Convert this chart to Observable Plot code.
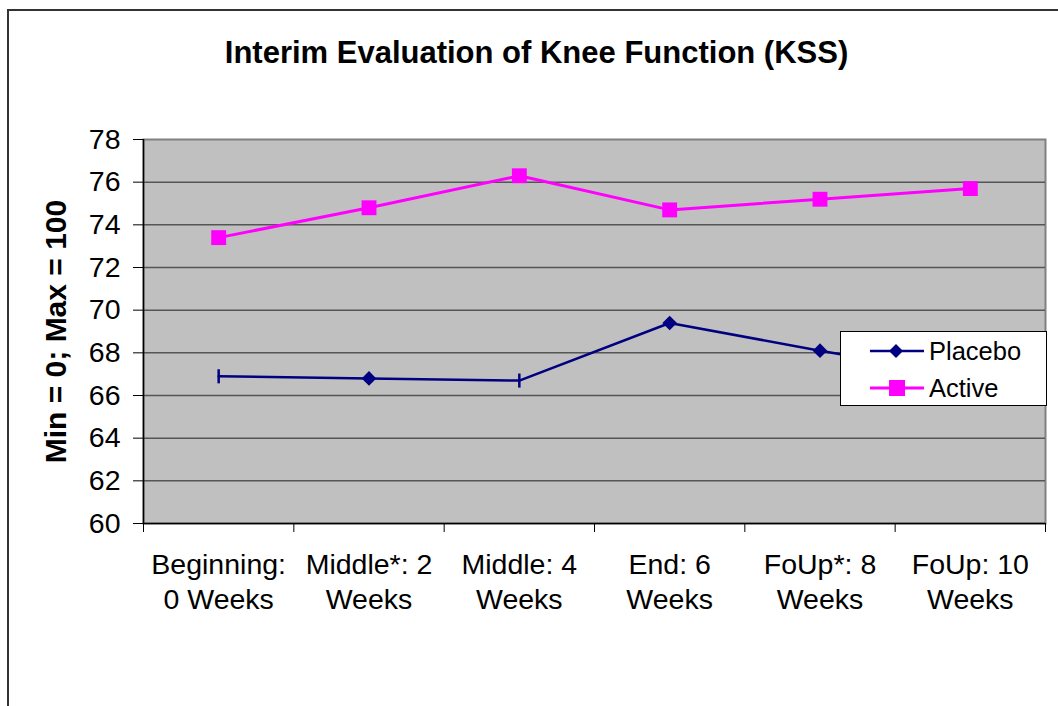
<!DOCTYPE html>
<html><head><meta charset="utf-8">
<script src="https://cdn.jsdelivr.net/npm/d3@7"></script>
<script src="https://cdn.jsdelivr.net/npm/@observablehq/plot@0.6"></script>
<style>
body{margin:0;background:#fff;font-family:"Liberation Sans",Arial,sans-serif;}
#wrap{position:relative;width:1058px;height:706px;overflow:hidden;background:#fff;}
#chart{position:absolute;left:0;top:0;}
#border{position:absolute;left:7px;top:9px;width:1100px;height:800px;border-left:2px solid #333;border-top:2px solid #333;z-index:2;}
#legend{position:absolute;left:840px;top:331px;width:205px;height:73px;border:1px solid #000;background:#fff;z-index:3;}
#legend .row{position:absolute;left:0;height:30px;display:flex;align-items:center;font-size:25.5px;color:#000;}
#legend svg{display:block;}
</style></head><body>
<div id="wrap"><div id="border"></div><div id="chart"></div><div id="legend"></div></div>
<script>
const title = "Interim Evaluation of Knee Function (KSS)";
const yLabel = "Min = 0; Max = 100";
const categories = ["Beginning:\n0 Weeks", "Middle*: 2\nWeeks", "Middle: 4\nWeeks", "End: 6\nWeeks", "FoUp*: 8\nWeeks", "FoUp: 10\nWeeks"];
const placebo = [66.9, 66.8, 66.7, 69.4, 68.1, 66.9];
const active = [73.4, 74.8, 76.3, 74.7, 75.2, 75.7];
const yTicks = [60, 62, 64, 66, 68, 70, 72, 74, 76, 78];
const seriesNames = ["Placebo", "Active"];

const colors = {Placebo: "#000080", Active: "#FF00FF"};
const placeboTickMarkers = [0, 2];
const pts = vals => vals.map((v, i) => ({x: i + 0.5, y: v, i}));
const placeboPts = pts(placebo);
const activePts = pts(active);
const xEdges = d3.range(categories.length + 1);

const vTick = {draw(ctx, size) { const h = Math.sqrt(size) * 0.63; ctx.moveTo(0, -h); ctx.lineTo(0, h); }};

const chart = Plot.plot({
  width: 1058, height: 706,
  marginLeft: 143, marginRight: 13, marginTop: 139, marginBottom: 183,
  style: {fontFamily: "Liberation Sans, Arial, sans-serif", fontSize: "28.5px", background: "none", color: "#000"},
  x: {type: "linear", domain: [0, categories.length]},
  y: {domain: [60, 78]},
  marks: [
    Plot.frame({fill: "#C0C0C0", stroke: "#808080", strokeWidth: 2}),
    Plot.ruleY(yTicks.slice(1, -1), {stroke: "#555", strokeWidth: 1.5}),
    Plot.ruleX([0], {stroke: "#000", strokeWidth: 1.5}),
    Plot.ruleY([60], {stroke: "#000", strokeWidth: 1.5}),
    Plot.axisY({ticks: yTicks, tickSize: 10, tickPadding: 13, tickFormat: d => String(d), stroke: "#000", fontSize: 28.5, label: null}),
    Plot.axisX({ticks: xEdges, tickSize: 9, tickFormat: () => "", stroke: "#000", label: null}),
    Plot.text(categories, {x: (d, i) => i + 0.5, frameAnchor: "bottom", dy: 25, lineAnchor: "top", lineHeight: 1.24, fontSize: 28.5, fill: "#000"}),
    Plot.text([yLabel], {frameAnchor: "left", textAnchor: "middle", dx: -87, rotate: -90, fontWeight: "bold", fontSize: 30, fill: "#000"}),
    Plot.text([title], {frameAnchor: "top", textAnchor: "middle", dx: -58, dy: -99, fontWeight: "bold", fontSize: 31, fill: "#000"}),
    Plot.line(placeboPts, {x: "x", y: "y", stroke: colors.Placebo, strokeWidth: 2.5}),
    Plot.line(activePts, {x: "x", y: "y", stroke: colors.Active, strokeWidth: 3}),
    Plot.dot(placeboPts.filter(d => !placeboTickMarkers.includes(d.i)), {x: "x", y: "y", symbol: "diamond2", r: 6.6, fill: colors.Placebo, stroke: "none"}),
    Plot.dot(placeboPts.filter(d => placeboTickMarkers.includes(d.i)), {x: "x", y: "y", symbol: vTick, r: 6.3, fill: "none", stroke: colors.Placebo, strokeWidth: 2.5}),
    Plot.dot(activePts, {x: "x", y: "y", symbol: "square", r: 8.4, fill: colors.Active, stroke: "none"})
  ]
});
document.getElementById("chart").appendChild(chart);

// Legend
const legend = document.getElementById("legend");
const markerFor = {
  Placebo: '<path d="M55,12 L62,19 L55,26 L48,19 Z" fill="#000080"/>',
  Active: '<rect x="48" y="11" width="16" height="16" fill="#FF00FF"/>'
};
seriesNames.forEach((name, k) => {
  const row = document.createElement("div");
  row.className = "row";
  row.style.top = (k === 0 ? 4 : 41) + "px";
  row.innerHTML = `<svg width="88" height="38" viewBox="0 0 88 38"><line x1="29" y1="19" x2="83" y2="19" stroke="${colors[name]}" stroke-width="${name === 'Active' ? 3 : 2.5}"/>${markerFor[name]}</svg><span>${name}</span>`;
  legend.appendChild(row);
});
</script>
</body></html>
